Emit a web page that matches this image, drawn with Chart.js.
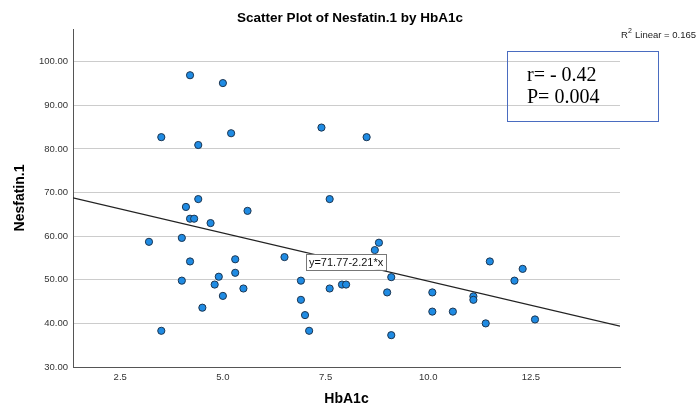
<!DOCTYPE html>
<html>
<head>
<meta charset="utf-8">
<script src="https://cdn.jsdelivr.net/npm/chart.js@4"></script>
<style>
  html, body { margin: 0; padding: 0; background: #fff; }
  #wrap { width: 698px; height: 406px; }
</style>
</head>
<body>
<div id="wrap"><canvas id="myChart" width="698" height="406"></canvas></div>
<script>
// HbA1c (x) and Nesfatin.1 (y) values
const hba1c = [4.2, 5.0, 3.5, 4.4, 5.2, 7.4, 8.5,
  4.1, 4.4, 7.6, 4.2, 4.3, 4.7, 5.6,
  3.2, 4.0, 4.2, 5.3, 6.5, 4.0, 4.9, 4.8, 5.3, 5.5, 5.0, 4.5, 3.5,
  6.9, 6.9, 7.0, 7.1, 7.6, 7.9, 8.0,
  8.8, 8.7, 9.1, 9.0, 9.1, 10.1, 10.1, 10.6, 11.1, 11.1, 11.5, 11.4, 12.1, 12.3, 12.6]
const nesfatin = [96.9, 95.1, 82.7, 80.9, 83.6, 84.9, 82.7,
  66.7, 68.5, 68.5, 64.0, 64.0, 63.0, 65.8,
  58.7, 59.6, 54.2, 54.7, 55.2, 49.8, 50.7, 48.9, 51.6, 48.0, 46.3, 43.6, 38.3,
  49.8, 45.4, 41.9, 38.3, 48.0, 48.9, 48.9,
  58.5, 56.8, 50.6, 47.1, 37.3, 47.1, 42.7, 42.7, 46.2, 45.4, 54.2, 40.0, 49.8, 52.5, 40.9]

const xTicks = [2.5, 5.0, 7.5, 10.0, 12.5]
const yTicks = [30, 40, 50, 60, 70, 80, 90, 100]
const xMin = 1.35, xMax = 14.67
const yMin = 30, yMax = 107.5

// fit line: y = 71.77 - 2.21*x
const fitIntercept = 71.77
const fitSlope = -2.21
const rText = 'r= - 0.42'
const pText = 'P= 0.004'
const r2Text = 'Linear = 0.165'

const pts = hba1c.map((x, i) => ({ x: x, y: nesfatin[i] }))
const fitLine = [xMin, xMax].map(x => ({ x: x, y: fitIntercept + fitSlope * x }))

const extras = {
    id: 'extras',
    afterDraw(chart) {
        const ctx = chart.ctx
        const xs = chart.scales.x, ys = chart.scales.y
        ctx.save()
        // title
        ctx.fillStyle = '#000'
        ctx.font = 'bold 13.5px "Liberation Sans", Arial, sans-serif'
        ctx.textAlign = 'center'
        ctx.textBaseline = 'middle'
        ctx.fillText('Scatter Plot of Nesfatin.1 by HbA1c', 350, 18)

        // R2 label
        ctx.textAlign = 'left'
        ctx.font = '9.5px "Liberation Sans", Arial, sans-serif'
        ctx.fillStyle = '#222'
        ctx.fillText('R', 621, 35)
        ctx.font = '7px "Liberation Sans", Arial, sans-serif'
        ctx.fillText('2', 628, 31)
        ctx.font = '9.5px "Liberation Sans", Arial, sans-serif'
        ctx.fillText(r2Text, 635, 35)

        // equation label on the fit line
        const eq = 'y=' + fitIntercept.toFixed(2) + '-' + Math.abs(fitSlope).toFixed(2) + '*x'
        ctx.font = '11px "Liberation Sans", Arial, sans-serif'
        const w = ctx.measureText(eq).width + 6
        const cx = xs.getPixelForValue(8.0), cy = ys.getPixelForValue(54.1)
        ctx.fillStyle = '#fff'
        ctx.fillRect(cx - w / 2, cy - 8, w, 16)
        ctx.strokeStyle = '#777'
        ctx.lineWidth = 1
        ctx.strokeRect(Math.round(cx - w / 2) + 0.5, Math.round(cy - 8) + 0.5, Math.round(w), 16)
        ctx.fillStyle = '#111'
        ctx.textAlign = 'center'
        ctx.fillText(eq, cx, cy + 1)

        // r / P box
        ctx.strokeStyle = '#4a6cc0'
        ctx.strokeRect(507.5, 51.5, 151, 70)
        ctx.fillStyle = '#000'
        ctx.textAlign = 'left'
        ctx.textBaseline = 'alphabetic'
        ctx.font = '20px "Liberation Serif", "Times New Roman", serif'
        ctx.fillText(rText, 527, 81)
        ctx.fillText(pText, 527, 103)
        ctx.restore()
    }
}

var ctx = document.getElementById('myChart').getContext('2d')
var myChart = new Chart(ctx, {
    type: 'scatter',
    data: {
        datasets: [{
            data: pts,
            backgroundColor: '#1f8be3',
            borderColor: '#1c3550',
            borderWidth: 1,
            pointRadius: 3.6,
            order: 1
        }, {
            type: 'line',
            data: fitLine,
            borderColor: '#222',
            borderWidth: 1.2,
            pointRadius: 0,
            fill: false,
            order: 2
        }]
    },
    options: {
        responsive: false,
        animation: false,
        layout: { padding: { top: 29, right: 78, left: 0, bottom: 0 } },
        plugins: {
            legend: { display: false },
            tooltip: { enabled: false }
        },
        scales: {
            x: {
                type: 'linear',
                min: xMin,
                max: xMax,
                afterBuildTicks: s => { s.ticks = xTicks.map(v => ({ value: v })) },
                afterFit: s => { s.height = 39 },
                grid: { display: false, drawTicks: false },
                border: { display: true, color: '#555', width: 1 },
                ticks: {
                    padding: 5,
                    color: '#333',
                    font: { size: 9.5, family: '"Liberation Sans", Arial, sans-serif' },
                    callback: v => v.toFixed(1)
                },
                title: {
                    display: true,
                    text: 'HbA1c',
                    color: '#000',
                    font: { size: 14, weight: 'bold', family: '"Liberation Sans", Arial, sans-serif' },
                    padding: { top: 0, bottom: -2 }
                }
            },
            y: {
                min: yMin,
                max: yMax,
                afterBuildTicks: s => { s.ticks = yTicks.map(v => ({ value: v })) },
                afterFit: s => { s.width = 73 },
                grid: { color: '#cccccc', lineWidth: 1, drawTicks: false },
                border: { display: true, color: '#555', width: 1 },
                ticks: {
                    padding: 5,
                    color: '#333',
                    font: { size: 9.5, family: '"Liberation Sans", Arial, sans-serif' },
                    callback: v => v.toFixed(2)
                },
                title: {
                    display: true,
                    text: 'Nesfatin.1',
                    color: '#000',
                    font: { size: 14, weight: 'bold', family: '"Liberation Sans", Arial, sans-serif' },
                    padding: { top: 12, bottom: 0 }
                }
            }
        }
    },
    plugins: [extras]
})
</script>
</body>
</html>
